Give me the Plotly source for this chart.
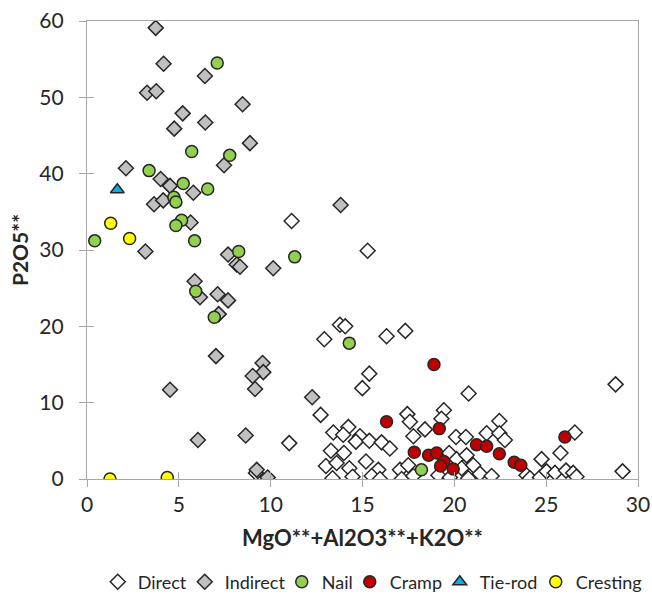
import plotly.graph_objects as go

# ---- data ----
direct_x = [11.14, 15.28, 13.77, 14.06, 12.92, 16.31, 17.33, 15.37, 14.99, 12.72, 17.44, 17.58,
            19.43, 19.30, 18.40, 17.77, 20.78, 28.78, 22.45, 11.01, 13.41, 14.23, 13.95, 14.86,
            14.64, 15.37, 16.04, 16.49, 13.28, 13.99, 13.01, 13.59, 14.28, 15.19, 15.86, 13.37,
            14.46, 15.50, 15.95, 17.04, 17.49, 17.13, 17.77, 20.09, 20.63, 21.76, 22.45, 22.75,
            19.72, 20.12, 20.67, 24.75, 25.78, 19.13, 19.76, 20.40, 20.76, 21.39, 22.03, 23.93,
            24.12, 24.66, 25.02, 21.03, 26.56, 25.48, 26.08, 26.47, 26.65, 29.16, 9.20]
direct_y = [33.8, 29.9, 20.2, 20.0, 18.3, 18.7, 19.4, 13.8, 11.9, 8.4, 8.5, 7.5,
            9.0, 7.9, 6.5, 5.6, 11.2, 12.4, 7.6, 4.7, 6.1, 6.8, 5.8, 5.6,
            4.9, 5.0, 4.8, 4.0, 3.7, 3.4, 1.7, 2.1, 1.4, 2.3, 1.2, 0.1,
            0.3, 0.4, 0.0, 1.2, 1.8, 0.0, 0.4, 5.5, 5.5, 6.0, 6.0, 5.1,
            3.4, 2.6, 3.1, 2.6, 3.4, 0.5, 0.2, 1.4, 0.1, 0.7, 0.4, 0.5,
            0.1, 0.2, 1.0, 1.8, 6.1, 0.8, 1.1, 0.8, 0.3, 1.0, 0.8]

indirect_x = [3.74, 4.17, 6.42, 3.27, 3.77, 8.47, 5.21, 6.44, 4.75, 8.87, 7.46, 2.12, 4.01,
              4.52, 5.79, 3.65, 4.15, 5.64, 3.18, 7.68, 8.15, 8.33, 10.14, 5.86, 6.15, 7.11,
              7.68, 7.17, 7.02, 9.56, 9.60, 9.02, 9.15, 4.52, 6.04, 8.64, 9.24, 9.84, 13.81, 12.26]
indirect_y = [59.1, 54.4, 52.8, 50.6, 50.8, 49.1, 47.9, 46.7, 45.9, 44.0, 41.1, 40.7, 39.3,
              38.4, 37.5, 36.0, 36.5, 33.6, 29.8, 29.4, 28.1, 27.8, 27.6, 25.9, 23.8, 24.2,
              23.4, 21.6, 16.1, 15.2, 14.0, 13.5, 11.8, 11.7, 5.1, 5.7, 1.2, 0.2, 35.9, 10.7]

nail_x = [7.09, 5.70, 7.77, 3.38, 5.24, 6.57, 4.73, 4.84, 5.15, 4.84, 0.42, 5.86, 8.26,
          5.92, 6.93, 11.31, 14.28, 18.21]
nail_y = [54.5, 42.9, 42.4, 40.4, 38.7, 38.0, 36.9, 36.3, 33.9, 33.2, 31.2, 31.2, 29.8,
          24.6, 21.2, 29.1, 17.8, 1.2]

cramp_x = [18.89, 16.31, 19.18, 21.21, 21.76, 22.45, 17.82, 18.60, 19.04, 19.43, 19.25,
           19.94, 23.26, 23.62, 26.02]
cramp_y = [15.0, 7.5, 6.6, 4.5, 4.3, 3.3, 3.5, 3.1, 3.4, 2.3, 1.7, 1.3, 2.2, 1.8, 5.5]

tierod_x = [1.65]
tierod_y = [37.9]

cresting_x = [1.29, 2.32, 1.25, 4.37]
cresting_y = [33.5, 31.5, 0.0, 0.2]

x_ticks = [0, 5, 10, 15, 20, 25, 30]
y_ticks = [0, 10, 20, 30, 40, 50, 60]

FONT = "Lato"
AXIS_COLOR = "#a6a6a6"
EDGE = "#262626"
LEG_SIZE = 18

# (name, x, y, symbol, fill, marker size, legend entry width in px)
series = [
    ("Direct", direct_x, direct_y, "diamond", "#ffffff", 11.5, 42),
    ("Indirect", indirect_x, indirect_y, "diamond", "#c0c0c0", 11.5, 52),
    ("Nail", nail_x, nail_y, "circle", "#92d050", 12, 23),
    ("Cramp", cramp_x, cramp_y, "circle", "#c00000", 12, 45),
    ("Tie-rod", tierod_x, tierod_y, "triangle-up", "#00b0f0", 12, 51),
    ("Cresting", cresting_x, cresting_y, "circle", "#ffff00", 12, 70),
]

fig = go.Figure()
for name, xs, ys, sym, col, sz, lw in series:
    fig.add_trace(go.Scatter(
        x=xs, y=ys, mode="markers", name=name, legendwidth=lw,
        marker=dict(symbol=sym, color=col, size=sz, line=dict(color=EDGE, width=1.5)),
    ))

# invisible trace on overlay axes used to draw inner half of the cross ticks
fig.add_trace(go.Scatter(x=[None], y=[None], xaxis="x2", yaxis="y2",
                         showlegend=False, hoverinfo="skip"))

fig.update_layout(
    width=652, height=594,
    margin=dict(l=87, r=14, t=21, b=115, autoexpand=False),
    paper_bgcolor="white", plot_bgcolor="white",
    font=dict(family=FONT, size=20, color="#262626"),
    xaxis=dict(
        range=[0, 30], tickvals=x_ticks, ticktext=[str(v) for v in x_ticks],
        showgrid=False, zeroline=False, showline=True, linecolor=AXIS_COLOR, linewidth=1.3,
        mirror=True, ticks="outside", ticklen=7, tickcolor=AXIS_COLOR, tickwidth=1.3,
        tickfont=dict(size=21), automargin=False, ticklabeloverflow="allow",
        title=dict(text="<b>MgO**+Al2O3**+K2O**</b>", font=dict(size=22), standoff=15),
    ),
    yaxis=dict(
        range=[0, 60], tickvals=y_ticks, ticktext=[str(v) for v in y_ticks],
        showgrid=False, zeroline=False, showline=True, linecolor=AXIS_COLOR, linewidth=1.3,
        mirror=True, ticks="outside", ticklen=7, tickcolor=AXIS_COLOR, tickwidth=1.3,
        ticklabelstandoff=11, tickfont=dict(size=21), automargin=False, ticklabeloverflow="allow",
        title=dict(text="<b>P2O5**</b>", font=dict(size=21), standoff=4),
    ),
    xaxis2=dict(range=[0, 30], tickvals=x_ticks, overlaying="x", anchor="y2",
                showticklabels=False, showgrid=False, zeroline=False, showline=False,
                ticks="inside", ticklen=7, tickcolor=AXIS_COLOR, tickwidth=1.3, automargin=False),
    yaxis2=dict(range=[0, 60], tickvals=y_ticks, overlaying="y", anchor="x2",
                showticklabels=False, showgrid=False, zeroline=False, showline=False,
                ticks="inside", ticklen=7, tickcolor=AXIS_COLOR, tickwidth=1.3, automargin=False),
    legend=dict(
        orientation="h", xref="container", yref="container",
        x=0.574, xanchor="center", y=1 - 582 / 594, yanchor="middle",
        font=dict(size=LEG_SIZE), itemwidth=30, tracegroupgap=0,
        bgcolor="rgba(0,0,0,0)",
    ),
    showlegend=True,
)

fig.write_html(
    "out.html",
    config={"displayModeBar": False},
    post_script="document.body.style.margin='0';document.body.style.overflow='hidden';",
)
